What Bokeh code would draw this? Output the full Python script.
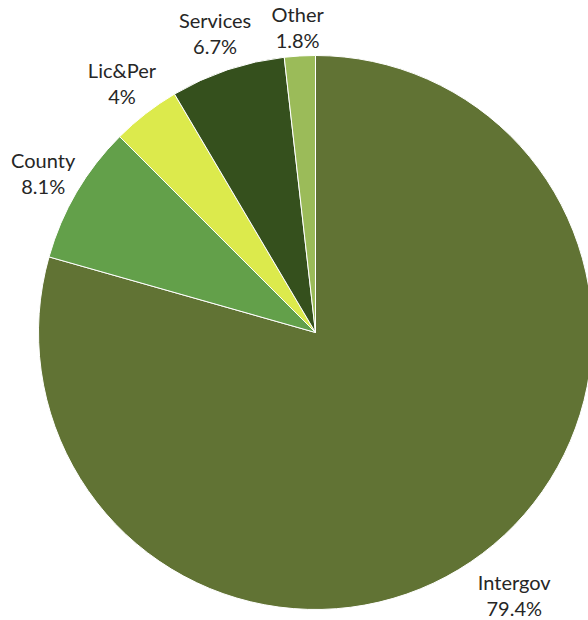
import math
from bokeh.plotting import figure
from bokeh.models import Range1d, ColumnDataSource
from bokeh.core.properties import value
from bokeh.embed import file_html
from bokeh.resources import INLINE

categories = ["Intergov", "County", "Lic&Per", "Services", "Other"]
shares = [79.4, 8.1, 4.0, 6.7, 1.8]
share_labels = ["79.4%", "8.1%", "4%", "6.7%", "1.8%"]
colors = ["#617334", "#63a04a", "#dcea4c", "#35501d", "#9bbb59"]

W, H = 588, 620
p = figure(width=W, height=H, output_backend="svg", toolbar_location=None,
           x_range=Range1d(0, W), y_range=Range1d(0, H),
           min_border=0)
p.axis.visible = False
p.grid.visible = False
p.outline_line_color = None
p.background_fill_color = "white"

cx, cy, r = 315, 620 - 332, 277
gap = 13
total = sum(shares)
starts, ends, lx, ly = [], [], [], []
a = math.pi / 2
for s in shares:
    sweep = 2 * math.pi * s / total
    starts.append(a - sweep)
    ends.append(a)
    mid = a - sweep / 2
    lr = r * (1.19 if s == max(shares) else 1.14)
    lx.append(cx + lr * math.cos(mid))
    ly.append(min(cy + lr * math.sin(mid), H - 2 * gap))
    a -= sweep

src = ColumnDataSource(dict(start=starts, end=ends, color=colors,
                            name=categories, pct=share_labels, lx=lx, ly=ly,
                            ly1=[y + gap for y in ly], ly2=[y - gap for y in ly]))
p.wedge(x=cx, y=cy, radius=r, start_angle="start", end_angle="end",
        fill_color="color", line_color="white", line_width=1, source=src)

for col, field in (("ly1", "name"), ("ly2", "pct")):
    p.text(x="lx", y=col, text=field, source=src, text_align="center",
           text_baseline="middle", text_font=value("Lato"),
           text_font_size="20px", text_color="#262626")

open("out.html", "w").write(file_html(p, INLINE))
